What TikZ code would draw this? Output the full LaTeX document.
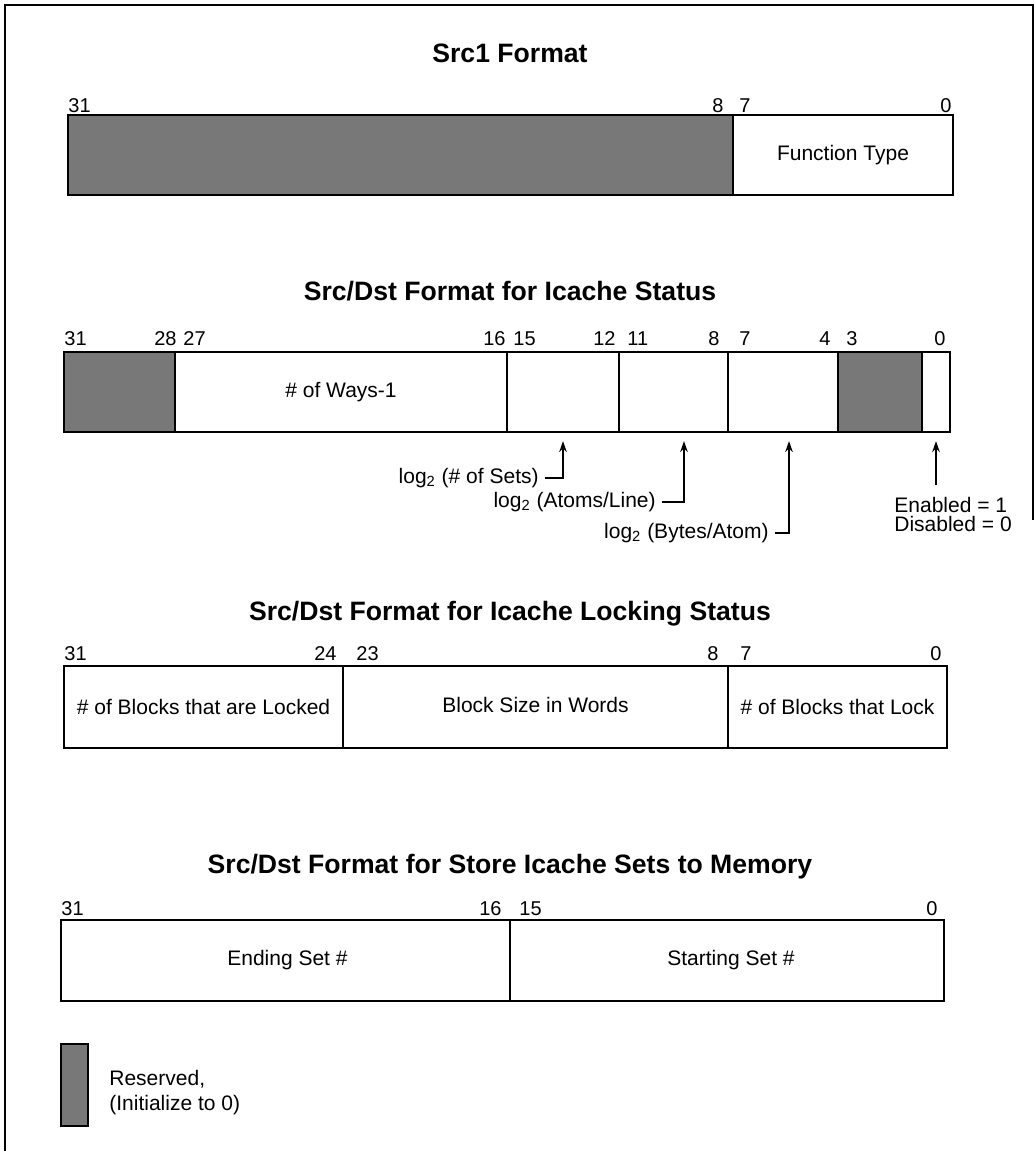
\documentclass[tikz,border=0pt]{standalone}
\usepackage{fontspec}
\setmainfont{Liberation Sans}
\usetikzlibrary{arrows.meta,fit}
\begin{document}
\begin{tikzpicture}[x=0.5pt,y=-0.5pt,
  field/.style={draw, line width=1.1pt, inner sep=0pt},
  resv/.style={field, fill=black!53},
  bitnum/.style={font=\fontsize{10}{11}\selectfont, inner sep=0pt},
  title/.style={font=\bfseries\fontsize{13.3}{15}\selectfont, inner sep=0pt, anchor=base},
  lbl/.style={font=\fontsize{10.5}{12.5}\selectfont, inner sep=0pt},
  arr/.style={-{Stealth[length=5.5pt,width=3.8pt]}, line width=0.7pt},
  frameline/.style={line width=0.9pt}]
\useasboundingbox (0,0) rectangle (1036,1151);
% outer frame
\coordinate (fa) at (5,1151);
\coordinate (fb) at (5,5);
\coordinate (fc) at (1033,5);
\coordinate (fd) at (1033,520);
\draw[frameline] (fa) -- (fb) -- (fc) -- (fd);

% ---------- Src1 Format ----------
\node[title] (t1) at (510,62) {Src1 Format};
\node[resv, fit={(68,115) (733,195)}] (a1) {};
\node[field, fit={(733,115) (953,195)}] (a2) {};
\node[lbl] (a2t) at (a2.center) {Function Type};
\node[bitnum, anchor=base west] (a31) at (68,112) {31};
\node[bitnum, anchor=base east] (a8) at (724,112) {8};
\node[bitnum, anchor=base west] (a7) at (739,112) {7};
\node[bitnum, anchor=base east] (a0) at (952,112) {0};

% ---------- Icache Status ----------
\node[title] (t2) at (510,300) {Src/Dst Format for Icache Status};
\node[resv, fit={(64,352) (175,432)}] (b1) {};
\node[field, fit={(175,352) (507,432)}] (b2) {};
\node[field, fit={(507,352) (619,432)}] (b3) {};
\node[field, fit={(619,352) (728,432)}] (b4) {};
\node[field, fit={(728,352) (838,432)}] (b5) {};
\node[resv, fit={(838,352) (922,432)}] (b6) {};
\node[field, fit={(922,352) (950,432)}] (b7) {};
\node[lbl] (b2t) at (b2.center) {\# of Ways-1};
\node[bitnum, anchor=base west] (b31) at (64,345) {31};
\node[bitnum, anchor=base east] (b28) at (177,345) {28};
\node[bitnum, anchor=base west] (b27) at (183,345) {27};
\node[bitnum, anchor=base east] (b16) at (506,345) {16};
\node[bitnum, anchor=base west] (b15) at (513,345) {15};
\node[bitnum, anchor=base east] (b12) at (616,345) {12};
\node[bitnum, anchor=base west] (b11) at (627,345) {11};
\node[bitnum, anchor=base east] (b8) at (720,345) {8};
\node[bitnum, anchor=base west] (b7n) at (739,345) {7};
\node[bitnum, anchor=base east] (b4n) at (831,345) {4};
\node[bitnum, anchor=base west] (b3n) at (846,345) {3};
\node[bitnum, anchor=base east] (b0) at (946,345) {0};

\node[lbl, anchor=east] (l1) at (539,478) {log\textsubscript{2} (\# of Sets)};
\node[lbl, anchor=east] (l2) at (656,502) {log\textsubscript{2} (Atoms/Line)};
\node[lbl, anchor=east] (l3) at (769,533) {log\textsubscript{2} (Bytes/Atom)};
\node[lbl, anchor=north west, align=left, font=\fontsize{10.5}{9.4}\selectfont] (en) at (894,497) {Enabled = 1\\Disabled = 0};
\coordinate (e4) at (936,485);
\draw[arr] ([xshift=2.75pt]l1.east) -| ([yshift=-4pt]b3.south);
\draw[arr] ([xshift=2.75pt]l2.east) -| ([xshift=5.25pt,yshift=-4pt]b4.south);
\draw[arr] ([xshift=2.75pt]l3.east) -| ([xshift=3pt,yshift=-4pt]b5.south);
\draw[arr] (e4) -- ([yshift=-4pt]b7.south);

% ---------- Icache Locking Status ----------
\node[title] (t3) at (510,620) {Src/Dst Format for Icache Locking Status};
\node[field, fit={(64,666) (343,748)}] (c1) {};
\node[field, fit={(343,666) (728,748)}] (c2) {};
\node[field, fit={(728,666) (947,748)}] (c3) {};
\node[lbl] (c1t) at (c1.center) {\# of Blocks that are Locked};
\node[lbl] (c2t) at ([yshift=1pt]c2.center) {Block Size in Words};
\node[lbl] (c3t) at (c3.center) {\# of Blocks that Lock};
\node[bitnum, anchor=base west] (c31) at (64,660) {31};
\node[bitnum, anchor=base east] (c24) at (337,660) {24};
\node[bitnum, anchor=base west] (c23) at (356,660) {23};
\node[bitnum, anchor=base east] (c8) at (719,660) {8};
\node[bitnum, anchor=base west] (c7) at (740,660) {7};
\node[bitnum, anchor=base east] (c0) at (942,660) {0};

% ---------- Store Icache Sets ----------
\node[title] (t4) at (510,873) {Src/Dst Format for Store Icache Sets to Memory};
\node[field, fit={(61,920) (510,1001)}] (d1) {};
\node[field, fit={(510,920) (944,1001)}] (d2) {};
\node[lbl] (d1t) at ([xshift=1pt]d1.center) {Ending Set \#};
\node[lbl] (d2t) at ([xshift=2pt]d2.center) {Starting Set \#};
\node[bitnum, anchor=base west] (d31) at (61,915) {31};
\node[bitnum, anchor=base east] (d16) at (502,915) {16};
\node[bitnum, anchor=base west] (d15) at (519,915) {15};
\node[bitnum, anchor=base east] (d0) at (938,915) {0};

% ---------- Legend ----------
\node[resv, fit={(61,1044) (88,1126)}] (lg) {};
\node[lbl, anchor=north west, align=left] (lgt) at (109,1070) {Reserved,\\(Initialize to 0)};
\end{tikzpicture}
\end{document}
